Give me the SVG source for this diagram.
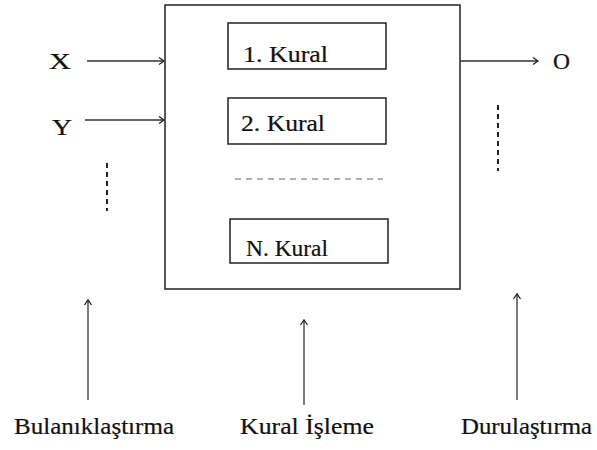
<svg xmlns="http://www.w3.org/2000/svg" width="597" height="450" viewBox="0 0 597 450">
<defs>
<marker id="arr" markerWidth="10" markerHeight="10" refX="8" refY="5" orient="auto" markerUnits="userSpaceOnUse">
<path d="M3,1.5 L8,5 L3,8.5" fill="none" stroke="#222" stroke-width="1.3"/>
</marker>
</defs>
<style>
text{font-family:'Liberation Serif','DejaVu Serif','Times New Roman',serif;fill:#111;font-size:23px;stroke:#111;stroke-width:0.2}
.box{fill:none;stroke:#222;stroke-width:1.5}
.ln{stroke:#333;stroke-width:1.3;fill:none}
.dash{stroke:#222;stroke-width:2;stroke-dasharray:5,4;fill:none}
.gdash{stroke:#999;stroke-width:1.3;stroke-dasharray:6,5;fill:none}
</style>
<rect width="597" height="450" fill="#fff"/>
<g id="main">
<rect class="box" x="165" y="5" width="295" height="284"/>
</g>
<g id="rule1">
<rect class="box" x="228" y="23" width="158" height="46"/>
<text x="243" y="62" textLength="85" lengthAdjust="spacingAndGlyphs">1. Kural</text>
</g>
<g id="rule2">
<rect class="box" x="228" y="98" width="158" height="46"/>
<text x="241" y="131" textLength="84" lengthAdjust="spacingAndGlyphs">2. Kural</text>
</g>
<g id="ruleN">
<rect class="box" x="230" y="219" width="158" height="44"/>
<text x="246" y="256" textLength="82" lengthAdjust="spacingAndGlyphs">N. Kural</text>
</g>
<g id="labels">
<text x="49" y="69" font-size="24" textLength="22" lengthAdjust="spacingAndGlyphs">X</text>
<text x="52" y="135" font-size="24" textLength="20" lengthAdjust="spacingAndGlyphs">Y</text>
<text x="553" y="69" font-size="24" textLength="17" lengthAdjust="spacingAndGlyphs">O</text>
<text x="14" y="434" textLength="160" lengthAdjust="spacingAndGlyphs">Bulanıklaştırma</text>
<text x="240" y="434" textLength="134" lengthAdjust="spacingAndGlyphs">Kural İşleme</text>
<text x="461" y="434" textLength="131" lengthAdjust="spacingAndGlyphs">Durulaştırma</text>
</g>
<g id="connectors">
<line class="ln" x1="87" y1="61" x2="164" y2="61" marker-end="url(#arr)"/>
<line class="ln" x1="85" y1="120" x2="164" y2="120" marker-end="url(#arr)"/>
<line class="ln" x1="460" y1="61" x2="538" y2="61" marker-end="url(#arr)"/>
<line class="ln" x1="88" y1="400" x2="88" y2="300" marker-end="url(#arr)"/>
<line class="ln" x1="304" y1="405" x2="304" y2="320" marker-end="url(#arr)"/>
<line class="ln" x1="517" y1="400" x2="517" y2="294" marker-end="url(#arr)"/>
<line class="dash" x1="107" y1="163" x2="107" y2="211"/>
<line class="dash" x1="498" y1="105" x2="498" y2="171"/>
<line class="gdash" x1="235" y1="179" x2="383" y2="179"/>
</g>
</svg>
